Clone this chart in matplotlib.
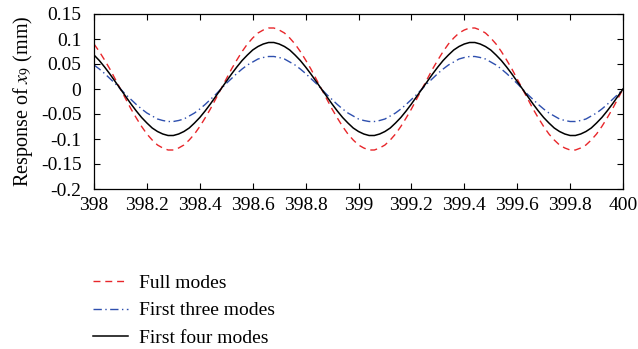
import numpy as np
import matplotlib
matplotlib.use("Agg")
import matplotlib.pyplot as plt

plt.rcParams['font.family'] = ['Liberation Serif', 'DejaVu Serif']
plt.rcParams['mathtext.fontset'] = 'stix'
plt.rcParams['axes.unicode_minus'] = False

# Time samples (s)
t = np.round(np.arange(398.0, 400.0001, 0.02), 2)

full_modes = [
    0.090, 0.075, 0.058, 0.040, 0.020, 0.000, -0.020, -0.040, -0.058, -0.075,
    -0.090, -0.102, -0.112, -0.118, -0.122, -0.122, -0.118, -0.112, -0.102, -0.090,
    -0.075, -0.058, -0.040, -0.020, 0.000, 0.020, 0.040, 0.058, 0.075, 0.090,
    0.102, 0.112, 0.118, 0.122, 0.122, 0.118, 0.112, 0.102,
    0.090, 0.075, 0.058, 0.040, 0.020, 0.000, -0.020, -0.040, -0.058, -0.075,
    -0.090, -0.102, -0.112, -0.118, -0.122, -0.122, -0.118, -0.112, -0.102, -0.090,
    -0.075, -0.058, -0.040, -0.020, 0.000, 0.020, 0.040, 0.058, 0.075, 0.090,
    0.102, 0.112, 0.118, 0.122, 0.122, 0.118, 0.112, 0.102,
    0.090, 0.075, 0.058, 0.040, 0.020, 0.000, -0.020, -0.040, -0.058, -0.075,
    -0.090, -0.102, -0.112, -0.118, -0.122, -0.122, -0.118, -0.112, -0.102, -0.090,
    -0.075, -0.058, -0.040, -0.020, 0.000,
]

first_three = [
    0.048, 0.040, 0.031, 0.021, 0.011, 0.000, -0.011, -0.021, -0.031, -0.040,
    -0.048, -0.054, -0.060, -0.063, -0.065, -0.065, -0.063, -0.060, -0.054, -0.048,
    -0.040, -0.031, -0.021, -0.011, 0.000, 0.011, 0.021, 0.031, 0.040, 0.048,
    0.054, 0.060, 0.063, 0.065, 0.065, 0.063, 0.060, 0.054,
    0.048, 0.040, 0.031, 0.021, 0.011, 0.000, -0.011, -0.021, -0.031, -0.040,
    -0.048, -0.054, -0.060, -0.063, -0.065, -0.065, -0.063, -0.060, -0.054, -0.048,
    -0.040, -0.031, -0.021, -0.011, 0.000, 0.011, 0.021, 0.031, 0.040, 0.048,
    0.054, 0.060, 0.063, 0.065, 0.065, 0.063, 0.060, 0.054,
    0.048, 0.040, 0.031, 0.021, 0.011, 0.000, -0.011, -0.021, -0.031, -0.040,
    -0.048, -0.054, -0.060, -0.063, -0.065, -0.065, -0.063, -0.060, -0.054, -0.048,
    -0.040, -0.031, -0.021, -0.011, 0.000,
]

first_four = [
    0.068, 0.057, 0.044, 0.030, 0.015, 0.000, -0.015, -0.030, -0.044, -0.057,
    -0.068, -0.078, -0.085, -0.090, -0.093, -0.093, -0.090, -0.085, -0.078, -0.068,
    -0.057, -0.044, -0.030, -0.015, 0.000, 0.015, 0.030, 0.044, 0.057, 0.068,
    0.078, 0.085, 0.090, 0.093, 0.093, 0.090, 0.085, 0.078,
    0.068, 0.057, 0.044, 0.030, 0.015, 0.000, -0.015, -0.030, -0.044, -0.057,
    -0.068, -0.078, -0.085, -0.090, -0.093, -0.093, -0.090, -0.085, -0.078, -0.068,
    -0.057, -0.044, -0.030, -0.015, 0.000, 0.015, 0.030, 0.044, 0.057, 0.068,
    0.078, 0.085, 0.090, 0.093, 0.093, 0.090, 0.085, 0.078,
    0.068, 0.057, 0.044, 0.030, 0.015, 0.000, -0.015, -0.030, -0.044, -0.057,
    -0.068, -0.078, -0.085, -0.090, -0.093, -0.093, -0.090, -0.085, -0.078, -0.068,
    -0.057, -0.044, -0.030, -0.015, 0.000,
]

labels = ["Full modes", "First three modes", "First four modes"]
xticks = [398, 398.2, 398.4, 398.6, 398.8, 399, 399.2, 399.4, 399.6, 399.8, 400]
xtick_labels = ["398", "398.2", "398.4", "398.6", "398.8", "399", "399.2",
                "399.4", "399.6", "399.8", "400"]
yticks = [-0.2, -0.15, -0.1, -0.05, 0, 0.05, 0.1, 0.15]
ytick_labels = ["-0.2", "-0.15", "-0.1", "-0.05", "0", "0.05", "0.1", "0.15"]

FS = 14

fig = plt.figure(figsize=(6.38, 3.49), dpi=100)
ax = fig.add_axes([94/638, 1-189/349, (623-94)/638, (189-14)/349])

l1, = ax.plot(t, full_modes, color='#e8262a', lw=1.0, linestyle=(0, (5, 3.5)))
l2, = ax.plot(t, first_three, color='#2e4fae', lw=1.0, linestyle=(0, (6, 2.5, 1, 2.5)))
l3, = ax.plot(t, first_four, color='black', lw=1.1)

ax.set_xlim(398, 400)
ax.set_ylim(-0.2, 0.15)
ax.set_xticks(xticks)
ax.set_xticklabels(xtick_labels)
ax.set_yticks(yticks)
ax.set_yticklabels(ytick_labels)
ax.tick_params(direction='in', top=True, right=True, labelsize=FS, length=4.5, width=0.8)
ax.tick_params(axis='x', pad=6)
ax.tick_params(axis='y', pad=9)
for s in ax.spines.values():
    s.set_linewidth(0.9)
ax.set_ylabel(r'Response of $x_9$ (mm)', fontsize=14.5, labelpad=4)

fig.legend([l1, l2, l3], labels, loc='upper left', bbox_to_anchor=(93/638, 1-274/349),
           frameon=False, fontsize=FS, handlelength=1.8, handletextpad=0.55,
           labelspacing=0.52, borderaxespad=0, borderpad=0)

fig.savefig("out.png", dpi=100)
